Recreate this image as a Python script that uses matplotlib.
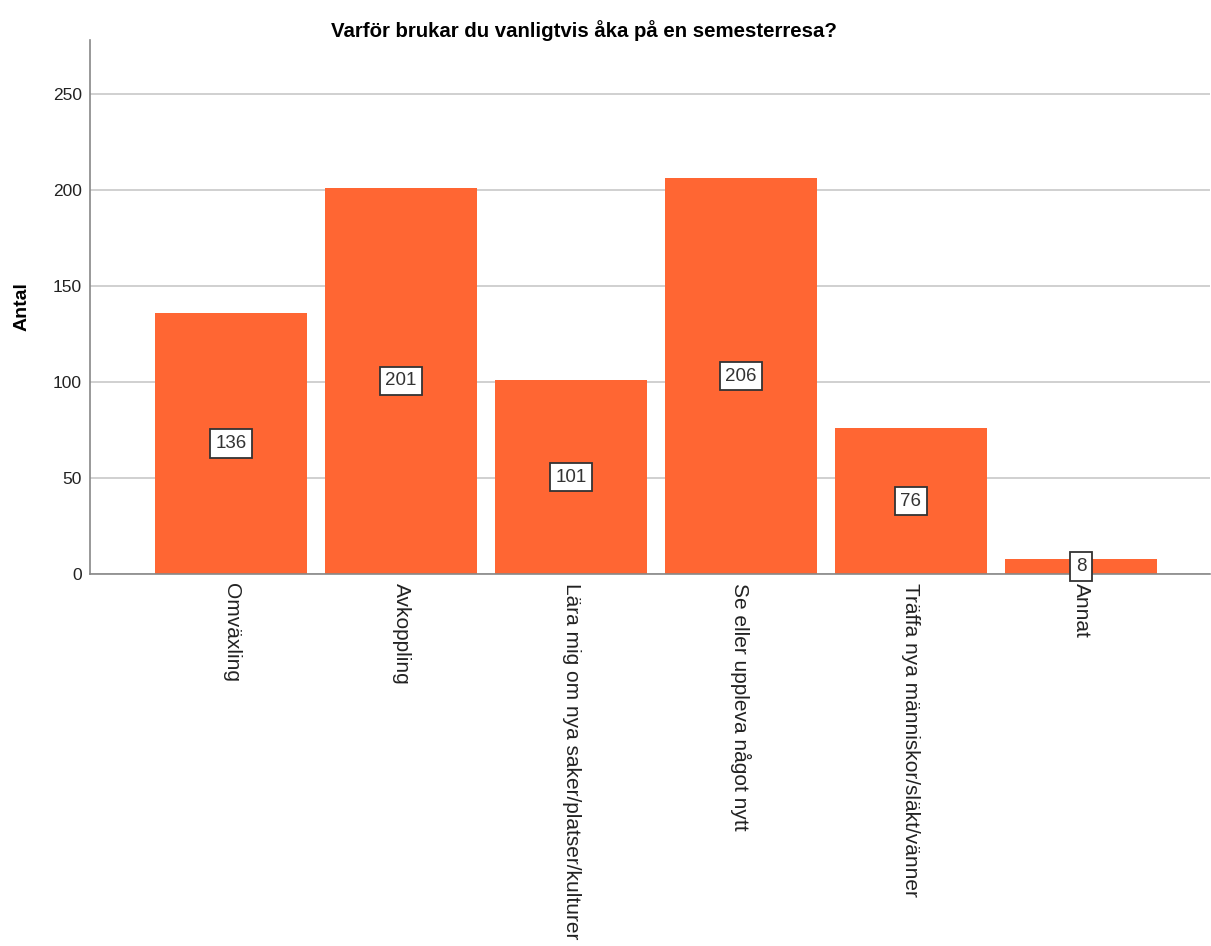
import numpy as np
import matplotlib.pyplot as plt

plt.rcParams['font.family'] = ['Liberation Sans', 'DejaVu Sans']

categories = ["Omväxling", "Avkoppling", "Lära mig om nya saker/platser/kulturer",
              "Se eller uppleva något nytt", "Träffa nya människor/släkt/vänner", "Annat"]
counts = [136, 201, 101, 206, 76, 8]
yticks = [0, 50, 100, 150, 200, 250]

bar_color = "#ff6633"

fig = plt.figure(figsize=(12.11, 9.46), dpi=100)
ax = fig.add_axes([0.0743, 0.393, 0.925, 0.565])

x = np.arange(len(categories))
ax.bar(x, counts, width=0.894, color=bar_color, zorder=2)

# value boxes sit halfway up each bar
for xi, c in zip(x, counts):
    ax.text(xi, c / 2, str(c), ha="center", va="center", fontsize=13.5, color="#333333", zorder=3,
            bbox=dict(boxstyle="square,pad=0.3", facecolor="white", edgecolor="#333333", linewidth=1.3))

ax.set_xlim(-0.83, 5.76)
ax.set_ylim(0, 278)
ax.set_yticks(yticks)
ax.yaxis.grid(True, color="#c8c8c8", linewidth=1.2, zorder=0)
ax.set_axisbelow(True)

ax.set_xticks(x)
ax.set_xticklabels(categories, rotation=270, ha="center", va="top")
ax.tick_params(axis="both", length=0, colors="#222222")
ax.tick_params(axis="x", pad=6, labelsize=15)
ax.tick_params(axis="y", pad=6, labelsize=12.5)

for s in ["top", "right"]:
    ax.spines[s].set_visible(False)
for s in ["left", "bottom"]:
    ax.spines[s].set_color("#888888")
    ax.spines[s].set_linewidth(1.2)

ax.set_ylabel("Antal", fontsize=14, fontweight="bold", labelpad=16)
fig.text(0.482, 0.968, "Varför brukar du vanligtvis åka på en semesterresa?",
         ha="center", va="center", fontsize=14.7, fontweight="bold")

fig.savefig("out.png", dpi=100)
